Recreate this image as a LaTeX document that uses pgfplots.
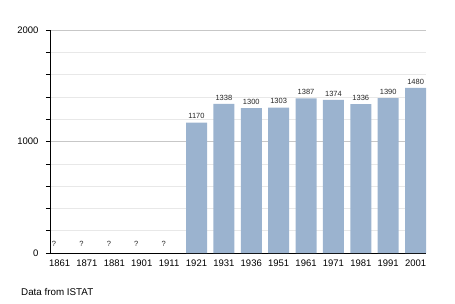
\documentclass[border=0pt]{standalone}
\usepackage{pgfplots}
\pgfplotsset{compat=1.18}
\usepackage{fontspec}
\setmainfont{Liberation Sans}
\definecolor{barc}{HTML}{9BB3CF}
\begin{document}
\begin{tikzpicture}
\path[use as bounding box] (0pt,0pt) rectangle (455pt,303pt);
\begin{axis}[at={(50pt,50pt)}, anchor=south west, scale only axis,
  width=376pt, height=223pt,
  xmin=-0.35, xmax=13.38, ymin=0, ymax=2000,
  axis lines*=left, axis line style={black, line width=0.8pt, -},
  /pgf/number format/.cd, assume math mode=true, 1000 sep={}, /pgfplots/.cd,
  ytick={0,1000,2000}, minor ytick={200,400,600,800,1200,1400,1600,1800},
  ymajorgrids, yminorgrids,
  major grid style={draw=black!22, line width=0.6pt},
  minor grid style={draw=black!9, line width=0.6pt},
  tick align=outside, major tick length=4pt, minor tick length=4pt,
  y tick style={black, line width=0.6pt},
  xtick={0,...,13},
  xticklabels={1861,1871,1881,1901,1911,1921,1931,1936,1951,1961,1971,1981,1991,2001},
  x tick style={draw=none},
  tick label style={font=\fontsize{9.5}{11}\selectfont, text=black},
  yticklabel style={xshift=-4pt},
  xticklabel style={yshift=1pt},
]
\addplot[ybar, bar width=21pt, fill=barc, draw=none,
  nodes near coords,
  every node near coord/.style={font=\fontsize{7.5}{9}\selectfont, text=black!85, inner sep=1pt, yshift=2.5pt}]
  coordinates {(5,1170) (6,1338) (7,1300) (8,1303) (9,1387) (10,1374) (11,1336) (12,1390) (13,1480)};
\addplot[only marks, mark=none,
  nodes near coords={?},
  every node near coord/.style={font=\fontsize{7.5}{9}\selectfont, text=black!85, anchor=center, xshift=-5.5pt, yshift=9pt}]
  coordinates {(0,0) (1,0) (2,0) (3,0) (4,0)};
\end{axis}
\node[anchor=west, font=\fontsize{9.8}{11}\selectfont, inner sep=0pt] at (21pt,11pt) {Data from ISTAT};
\end{tikzpicture}
\end{document}
